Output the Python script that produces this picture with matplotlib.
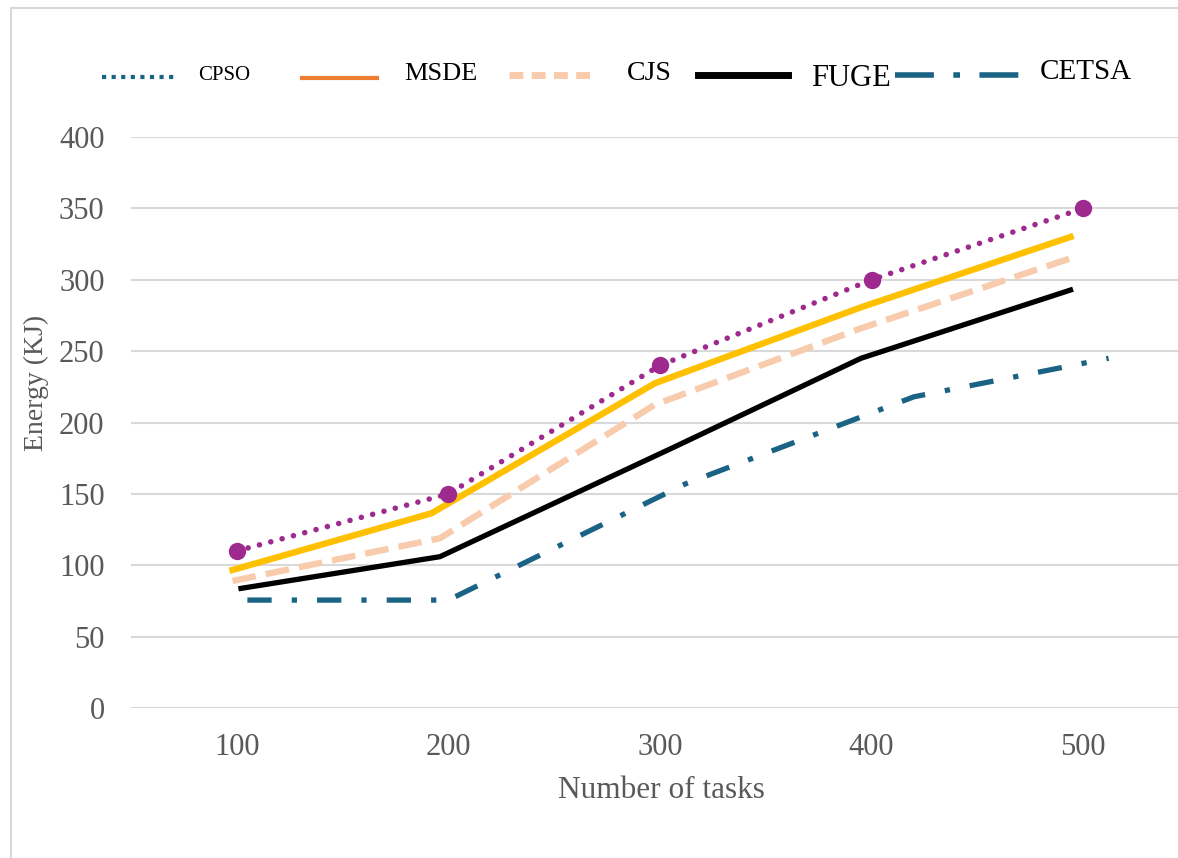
import matplotlib
matplotlib.use("Agg")
import matplotlib.pyplot as plt
from matplotlib.lines import Line2D
from matplotlib.patches import Rectangle

plt.rcParams["font.family"] = ["Liberation Serif", "DejaVu Serif"]

# data
tasks = [100, 200, 300, 400, 500]
tick_labels = ["100", "200", "300", "400", "500"]
cpso = [110, 150, 240, 300, 350]

msde_x = [98, 192, 297.6, 395, 494]
msde_y = [96.7, 136.4, 227.5, 280.7, 330]

cjs_x = [98, 196, 297.6, 395, 494]
cjs_y = [89, 118.9, 212.5, 266, 315]

fuge_x = [102, 196, 307, 395, 494]
fuge_y = [83.8, 106, 183, 245, 292.8]

cetsa_x = [105, 200, 312, 420, 512]
cetsa_y = [75.6, 75.6, 157, 218, 245]

W, H = 1178, 858
fig = plt.figure(figsize=(W / 100, H / 100), dpi=100)
ax = fig.add_axes([131 / W, 150 / H, (1189 - 131) / W, (708 - 137) / H])

grid_c = "#D9D9D9"
purple = "#9E2A8F"
gold = "#FFC000"
peach = "#F8CBAD"
teal = "#1B6385"

ax.plot(cetsa_x, cetsa_y, color=teal, lw=3.8, linestyle=(0, (4.6, 3.8, 1.0, 3.8)),
        dash_capstyle="butt", zorder=3)
ax.plot(fuge_x, fuge_y, color="black", lw=3.8, zorder=4)
ax.plot(cjs_x, cjs_y, color=peach, lw=4.6, linestyle=(0, (3.7, 1.6)),
        dash_capstyle="butt", zorder=5)
ax.plot(msde_x, msde_y, color=gold, lw=4.6, zorder=6)
ax.plot(tasks, cpso, color=purple, lw=4, linestyle=(0, (0.01, 2.1)),
        dash_capstyle="round", marker="o", markersize=12.5, markeredgewidth=0,
        zorder=7)

ax.set_xlim(50, 550)
ax.set_ylim(0, 400)
ax.set_yticks(range(0, 401, 50))
ax.set_xticks(tasks)
ax.set_xticklabels(tick_labels)
ax.grid(axis="y", color=grid_c, lw=1.5)
ax.set_axisbelow(True)
for s in ax.spines.values():
    s.set_visible(False)
ax.tick_params(axis="both", length=0, labelsize=22, labelcolor="#595959")
ax.tick_params(axis="y", pad=19)
ax.tick_params(axis="x", pad=18)

fig.text(661 / W, 1 - 791 / H, "Number of tasks", ha="center", va="center",
         fontsize=22.5, color="#595959")
fig.text(36 / W, 1 - 383 / H, "Energy (KJ)", ha="center", va="center",
         rotation=90, fontsize=20, color="#595959")

# legend drawn by hand, it does not match the plotted colours
def handle(x0, x1, y, **kw):
    fig.add_artist(Line2D([x0 / W, x1 / W], [1 - y / H, 1 - y / H], **kw))

def label(x, y, s, size):
    fig.text(x / W, 1 - y / H, s, ha="left", va="center", fontsize=size, color="black")

handle(102, 178, 77, color=teal, lw=3, linestyle=(0, (1, 1.3)))
label(198, 75, "CPSO", 15)
handle(302, 377, 78, color="#ED7D31", lw=3)
label(404, 74, "MSDE", 19)
handle(509, 594, 75, color=peach, lw=5, linestyle=(0, (2, 1.2)))
label(627, 73, "CJS", 20)
handle(698, 788, 75, color="black", lw=5)
label(811, 78, "FUGE", 22)
handle(895, 1037, 75, color=teal, lw=4, linestyle=(0, (7, 3.5, 1.2, 3.5)))
label(1040, 72, "CETSA", 21)

# light frame around the chart
fig.add_artist(Rectangle((11 / W, -0.1), 1.2, (1 - 8 / H) + 0.1, fill=False,
                         edgecolor=grid_c, lw=1.5, transform=fig.transFigure))

fig.savefig("out.png", dpi=100)
